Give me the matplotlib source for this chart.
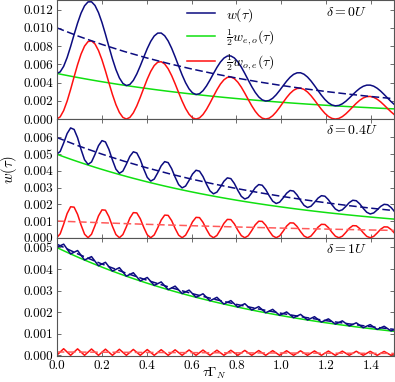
import numpy as np
import matplotlib
matplotlib.use("Agg")
import matplotlib.pyplot as plt
from matplotlib.ticker import FormatStrFormatter, MultipleLocator

# curve values, in units of 1e-5
UNIT = 1e-5

# sampling of tau*Gamma_N for the oscillating curves
tau = np.linspace(0, 1.5035, 98)
# coarser sampling for the smooth dashed averages
tau_avg = np.linspace(0, 1.5, 16)

# 1/2 w_eo(tau), same in all three panels
green = [
    500.0, 492.3, 484.7, 477.3, 469.9, 462.7, 455.6, 448.6, 441.7, 434.9,
    428.2, 421.6, 415.1, 408.8, 402.5, 396.3, 390.2, 384.2, 378.3, 372.5,
    366.7, 361.1, 355.5, 350.1, 344.7, 339.4, 334.2, 329.0, 324.0, 319.0,
    314.1, 309.2, 304.5, 299.8, 295.2, 290.7, 286.2, 281.8, 277.4, 273.2,
    269.0, 264.8, 260.8, 256.8, 252.8, 248.9, 245.1, 241.3, 237.6, 234.0,
    230.4, 226.8, 223.3, 219.9, 216.5, 213.2, 209.9, 206.7, 203.5, 200.4,
    197.3, 194.2, 191.3, 188.3, 185.4, 182.6, 179.8, 177.0, 174.3, 171.6,
    169.0, 166.4, 163.8, 161.3, 158.8, 156.4, 153.9, 151.6, 149.2, 147.0,
    144.7, 142.5, 140.3, 138.1, 136.0, 133.9, 131.8, 129.8, 127.8, 125.9,
    123.9, 122.0, 120.1, 118.3, 116.5, 114.7, 112.9, 111.2]

# delta = 0U
red_0 = [
    0.0, 24.1, 92.6, 196.7, 324.7, 462.7, 596.4, 712.3, 799.0, 848.5,
    856.4, 822.6, 750.9, 649.1, 526.9, 396.3, 269.6, 158.4, 72.3, 18.2,
    0.0, 17.7, 67.9, 144.3, 238.2, 339.4, 437.5, 522.4, 586.1, 622.4,
    628.2, 603.3, 550.8, 476.0, 386.4, 290.7, 197.8, 116.2, 53.0, 13.4,
    0.0, 12.9, 49.8, 105.9, 174.7, 248.9, 320.8, 383.1, 429.8, 456.6,
    460.8, 442.5, 403.9, 349.2, 283.4, 213.2, 145.0, 85.2, 38.9, 9.8,
    0.0, 9.5, 36.5, 77.6, 128.1, 182.6, 235.4, 281.0, 315.3, 334.8,
    338.0, 324.7, 296.3, 256.1, 207.9, 156.4, 106.3, 62.5, 28.5, 7.2,
    0.0, 7.0, 26.8, 56.9, 94.0, 133.9, 172.5, 206.1, 231.2, 245.6,
    247.8, 238.0, 217.3, 187.8, 152.5, 114.7, 78.0, 45.8]
blue_0 = [
    500.0, 516.4, 577.3, 674.0, 794.6, 925.4, 1052.0, 1160.9, 1240.7, 1283.4,
    1284.6, 1244.2, 1166.0, 1057.9, 929.4, 792.6, 659.8, 542.6, 450.6, 390.7,
    366.7, 378.8, 423.4, 494.4, 582.9, 678.8, 771.7, 851.4, 910.1, 941.4,
    942.3, 912.5, 855.3, 775.8, 681.6, 581.4, 484.0, 398.0, 330.4, 286.6,
    269.0, 277.7, 310.6, 362.7, 427.5, 497.8, 565.9, 624.4, 667.4, 690.6,
    691.2, 669.3, 627.2, 569.1, 499.9, 426.4, 354.9, 291.9, 242.4, 210.2,
    197.3, 203.7, 227.8, 265.9, 313.5, 365.2, 415.2, 458.0, 489.6, 506.4,
    507.0, 491.1, 460.1, 417.4, 366.7, 312.8, 260.2, 214.1, 177.7, 154.2,
    144.7, 149.5, 167.1, 195.0, 230.0, 267.8, 304.3, 335.9, 359.0, 371.5,
    371.7, 360.0, 337.4, 306.1, 269.0, 229.4, 190.9, 157.0]
blue_0_avg = [1000.0, 904.8, 818.7, 740.8, 670.3, 606.5, 548.8, 496.6,
              449.3, 406.6, 367.9, 332.9, 301.2, 272.5, 246.6, 223.1]

# delta = 0.4U
red_1 = [
    0.0, 23.1, 80.7, 144.9, 185.2, 183.0, 139.9, 76.2, 21.3,
    0.0, 20.8, 72.7, 130.5, 166.8, 164.8, 126.0, 68.6, 19.2,
    0.0, 18.8, 65.5, 117.5, 150.2, 148.5, 113.5, 61.8, 17.3,
    0.0, 16.9, 59.0, 105.8, 135.3, 133.7, 102.2, 55.7, 15.6,
    0.0, 15.2, 53.1, 95.3, 121.8, 120.4, 92.1, 50.1, 14.0,
    0.0, 13.7, 47.8, 85.8, 109.7, 108.5, 82.9, 45.1, 12.6,
    0.0, 12.3, 43.1, 77.3, 98.8, 97.7, 74.7, 40.7, 11.4,
    0.0, 11.1, 38.8, 69.6, 89.0, 88.0, 67.3, 36.6, 10.3,
    0.0, 10.0, 35.0, 62.7, 80.2, 79.2, 60.6, 33.0, 9.2,
    0.0, 9.0, 31.5, 56.5, 72.2, 71.4, 54.6, 29.7, 8.3,
    0.0, 8.1, 28.4, 50.9, 65.0, 64.3, 49.1, 26.8]
blue_1 = [
    500.0, 515.9, 566.4, 623.5, 656.9, 647.9, 598.1, 527.8, 466.5,
    438.8, 453.3, 498.9, 550.6, 580.9, 573.1, 528.4, 465.2, 410.2,
    385.4, 398.7, 439.9, 486.6, 514.0, 507.2, 467.1, 410.4, 361.0,
    338.8, 350.9, 388.3, 430.5, 455.3, 449.3, 413.3, 362.4, 318.1,
    298.2, 309.2, 343.0, 381.2, 403.7, 398.3, 366.1, 320.4, 280.4,
    262.7, 272.8, 303.3, 337.8, 358.2, 353.5, 324.5, 283.4, 247.6,
    231.7, 240.9, 268.5, 299.7, 318.1, 314.0, 288.0, 251.0, 218.9,
    204.7, 213.0, 238.0, 266.1, 282.8, 279.2, 255.8, 222.7, 193.8,
    181.0, 188.6, 211.1, 236.6, 251.6, 248.4, 227.4, 197.7, 171.7,
    160.3, 167.2, 187.5, 210.5, 224.2, 221.3, 202.5, 175.7, 152.4,
    142.2, 148.4, 166.8, 187.5, 199.9, 197.4, 180.5, 156.4]
blue_1_avg = [600.0, 548.0, 500.8, 457.8, 418.7, 383.2, 350.7, 321.3,
              294.5, 270.0, 247.7, 227.4, 208.9, 192.0, 176.6, 162.5]
red_1_avg = [100.0, 94.7, 89.6, 84.8, 80.3, 76.0, 71.9, 68.1,
             64.4, 61.0, 57.7, 54.6, 51.7, 48.9, 46.3, 43.8]

# delta = 1U
red_2 = [
    0.0, 15.4, 30.6, 15.2, 0.0, 15.1, 30.0, 14.9, 0.0, 14.7,
    29.3, 14.6, 0.0, 14.4, 28.6, 14.2, 0.0, 14.1, 28.0, 13.9,
    0.0, 13.7, 27.3, 13.6, 0.0, 13.4, 26.7, 13.3, 0.0, 13.1,
    26.1, 13.0, 0.0, 12.8, 25.5, 12.7, 0.0, 12.5, 24.9, 12.4,
    0.0, 12.3, 24.4, 12.1, 0.0, 12.0, 23.8, 11.8, 0.0, 11.7,
    23.3, 11.6, 0.0, 11.4, 22.8, 11.3, 0.0, 11.2, 22.2, 11.1,
    0.0, 10.9, 21.7, 10.8, 0.0, 10.7, 21.2, 10.6, 0.0, 10.4,
    20.8, 10.3, 0.0, 10.2, 20.3, 10.1, 0.0, 10.0, 19.8, 9.9,
    0.0, 9.7, 19.4, 9.6, 0.0, 9.5, 18.9, 9.4, 0.0, 9.3,
    18.5, 9.2, 0.0, 9.1, 18.1, 9.0, 0.0, 8.9]
blue_2 = [
    500.0, 507.7, 515.3, 492.5, 469.9, 477.8, 485.6, 463.5, 441.7, 449.6,
    457.5, 436.2, 415.1, 423.2, 431.1, 410.5, 390.2, 398.3, 406.3, 386.4,
    366.7, 374.8, 382.8, 363.7, 344.7, 352.8, 360.9, 342.3, 324.0, 332.1,
    340.2, 322.2, 304.5, 312.6, 320.7, 303.4, 286.2, 294.3, 302.3, 285.6,
    269.0, 277.1, 285.2, 268.9, 252.8, 260.9, 268.9, 253.1, 237.6, 245.7,
    253.7, 238.4, 223.3, 231.3, 239.3, 224.5, 209.9, 217.9, 225.7, 211.5,
    197.3, 205.1, 213.0, 199.1, 185.4, 193.3, 201.0, 187.6, 174.3, 182.0,
    189.8, 176.7, 163.8, 171.5, 179.1, 166.5, 153.9, 161.6, 169.0, 156.9,
    144.7, 152.2, 159.7, 147.7, 136.0, 143.4, 150.7, 139.2, 127.8, 135.2,
    142.4, 131.2, 120.1, 127.4, 134.6, 123.7, 112.9, 120.1]
blue_2_avg = [515.5, 467.3, 423.8, 384.3, 348.6, 316.2, 286.8, 260.3,
              236.2, 214.4, 194.6, 176.7, 160.5, 145.9, 132.5, 120.5]
red_2_avg = [15.5, 14.9, 14.4, 13.9, 13.4, 12.9, 12.4, 12.0,
             11.5, 11.1, 10.7, 10.3, 9.9, 9.6, 9.2, 8.9]

deltas = [r'$\delta = 0U$', r'$\delta = 0.4U$', r'$\delta = 1U$']

NAVY = '#0c0c80'
GREEN = '#10e010'
RED = '#ff1010'
LIGHTRED = '#ff5a5a'
LW = 1.1
DASH = (0, (5, 2.3))


def arr(v):
    return np.array(v) * UNIT


def main():
    plt.rcParams['font.family'] = 'cmr10'
    plt.rcParams['mathtext.fontset'] = 'cm'
    plt.rcParams['axes.formatter.use_mathtext'] = True
    plt.rcParams['font.size'] = 9.5

    fig, axes = plt.subplots(3, 1, sharex=True, figsize=(3.95, 3.82), dpi=100)
    fig.subplots_adjust(left=0.1435, right=0.997, top=0.999, bottom=0.067, hspace=0)

    panels = [
        (blue_0, red_0, blue_0_avg, None),
        (blue_1, red_1, blue_1_avg, red_1_avg),
        (blue_2, red_2, blue_2_avg, red_2_avg),
    ]

    for ax, (blue, red, blue_avg, red_avg), label in zip(axes, panels, deltas):
        ax.plot(tau, arr(green), color=GREEN, lw=LW, label=r'$\frac{1}{2}w_{e,o}(\tau)$')
        ax.plot(tau, arr(red), color=RED, lw=LW, label=r'$\frac{1}{2}w_{o,e}(\tau)$')
        if red_avg is not None:
            ax.plot(tau_avg, arr(red_avg), color=LIGHTRED, lw=LW, ls=DASH)
        ax.plot(tau_avg, arr(blue_avg), color=NAVY, lw=LW, ls=DASH)
        ax.plot(tau, arr(blue), color=NAVY, lw=LW, label=r'$w(\tau)$')

        ax.text(0.80, 0.9, label, transform=ax.transAxes, fontsize=10,
                ha='left', va='center')

        ax.set_xlim(0, 1.5)
        ax.tick_params(direction='in', top=True, right=True, length=3,
                       width=0.6, color='#555555', pad=2.5)
        for sp in ax.spines.values():
            sp.set_color('#555555')
            sp.set_linewidth(0.8)
        ax.yaxis.set_major_formatter(FormatStrFormatter('%.3f'))

    axes[0].set_ylim(0, 0.013)
    axes[0].yaxis.set_major_locator(MultipleLocator(0.002))
    axes[1].set_ylim(0, 0.0071)
    axes[1].set_yticks([0, 0.001, 0.002, 0.003, 0.004, 0.005, 0.006])
    axes[2].set_ylim(-0.00005, 0.00545)
    axes[2].set_yticks([0, 0.001, 0.002, 0.003, 0.004, 0.005])

    axes[2].xaxis.set_major_locator(MultipleLocator(0.2))
    axes[2].xaxis.set_major_formatter(FormatStrFormatter('%.1f'))

    h, l = axes[0].get_legend_handles_labels()
    order = [2, 0, 1]
    axes[0].legend([h[i] for i in order], [l[i] for i in order],
                   loc='upper left', bbox_to_anchor=(0.37, 1.0),
                   borderaxespad=0, frameon=False, fontsize=10,
                   handlelength=2.0, labelspacing=0.25)

    fig.text(0.022, 0.555, r'$w(\tau)$', rotation=90, ha='center', va='center',
             fontsize=10.5)
    fig.text(0.542, 0.002, r'$\tau\Gamma_N$', ha='center', va='bottom', fontsize=9.5)

    fig.savefig('out.png', dpi=100)


if __name__ == "__main__":
    main()
